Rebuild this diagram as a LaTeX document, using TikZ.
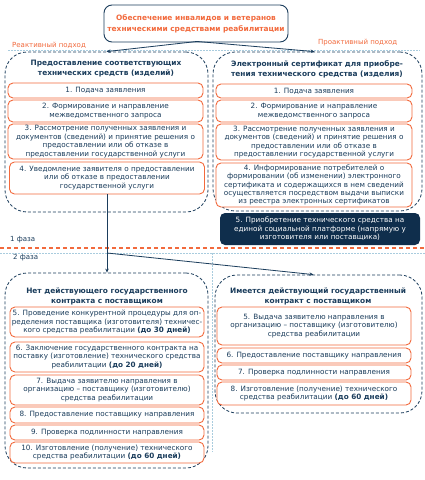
\documentclass[tikz,border=0pt]{standalone}
\usepackage{fontspec}
\setmainfont{DejaVu Sans}
\usetikzlibrary{arrows.meta,calc}
\definecolor{navy}{HTML}{1B3D5C}
\definecolor{org}{HTML}{F26A3D}
\definecolor{dark}{HTML}{0F2E4C}
\definecolor{lblue}{HTML}{A9CCDE}
\tikzset{
 stepbox/.style={draw=org, line width=0.9pt, rounded corners=5pt, fill=white, align=center, text=navy, font=\fontsize{7.25}{8.4}\selectfont, inner sep=0pt},
 darkbox/.style={fill=dark, rounded corners=5pt, align=center, text=white, font=\fontsize{7.25}{8.4}\selectfont, inner sep=0pt},
 cont/.style={draw=navy, dash pattern=on 3pt off 2pt, line width=0.8pt, rounded corners=22pt},
 conttitle/.style={align=center, text=navy, font=\bfseries\fontsize{7.4}{10}\selectfont, inner sep=0pt},
 lbl/.style={text=org, font=\fontsize{7}{8}\selectfont, inner sep=0pt, anchor=west},
 phase/.style={text=navy, font=\fontsize{7}{8}\selectfont, inner sep=0pt, anchor=west},
 conn/.style={draw=navy, line width=0.8pt, -{Stealth[length=4pt,width=3.5pt]}},
 guide/.style={draw=lblue, line width=0.6pt, dash pattern=on 1.5pt off 1.5pt},
}
\begin{document}
\begin{tikzpicture}[x=1pt,y=-1pt]
\useasboundingbox (0,0) rectangle (425,480);
\fill[white] (0,0) rectangle (425,480);
% guides
\draw[guide] (8,50) -- (420,50);
\draw[guide] (0,253) -- (425,253);
\draw[guide] (212,253) -- (212,452);
% containers
\node[cont, minimum width=203pt, minimum height=160pt] (ltc) at (106.5,132) {};
\node[cont, minimum width=209pt, minimum height=159pt] (rtc) at (317.5,131.5) {};
\node[cont, minimum width=203pt, minimum height=195pt] (llc) at (106.5,370.5) {};
\node[cont, minimum width=207pt, minimum height=138pt] (lrc) at (318.5,344) {};
% title
\node[draw=navy, line width=0.9pt, rounded corners=8pt, fill=white, minimum width=184pt, minimum height=37pt, align=center, text=org, font=\bfseries\fontsize{7.4}{11}\selectfont, inner sep=0pt] (title) at (196,23.5) {Обеспечение инвалидов и ветеранов\\техническими средствами реабилитации};
\node[lbl] (reak) at (12,45) {Реактивный подход};
\node[lbl] (proak) at (318,43) {Проактивный подход};
% left top
\node[conttitle] (ltt) at (106,69) {Предоставление соответствующих\\технических средств (изделий)};
\node[stepbox, minimum width=195pt, minimum height=15pt] (l1) at (105.5,90.5) {1. Подача заявления};
\node[stepbox, minimum width=195pt, minimum height=22pt] (l2) at (105.5,111) {2. Формирование и направление\\межведомственного запроса};
\node[stepbox, minimum width=195pt, minimum height=35pt] (l3) at (105.5,141.5) {3. Рассмотрение полученных заявления и\\документов (сведений) и принятие решения о\\предоставлении или об отказе в\\предоставлении государственной услуги};
\node[stepbox, minimum width=195pt, minimum height=32pt] (l4) at (107,178) {4. Уведомление заявителя о предоставлении\\или об отказе в предоставлении\\государственной услуги};
% right top
\node[conttitle] (rtt) at (317,69) {Электронный сертификат для приобре-\\тения технического средства (изделия)};
\node[stepbox, minimum width=196pt, minimum height=14pt] (r1) at (314,91) {1. Подача заявления};
\node[stepbox, minimum width=196pt, minimum height=22pt] (r2) at (314,111) {2. Формирование и направление\\межведомственного запроса};
\node[stepbox, minimum width=196pt, minimum height=36pt] (r3) at (314,142) {3. Рассмотрение полученных заявления и\\документов (сведений) и принятие решения о\\предоставлении или об отказе в\\предоставлении государственной услуги};
\node[stepbox, minimum width=196pt, minimum height=44pt] (r4) at (314,185) {4. Информирование потребителей о\\формировании (об изменении) электронного\\сертификата и содержащихся в нем сведений\\осуществляется посредством выдачи выписки\\из реестра электронных сертификатов};
\node[darkbox, minimum width=200pt, minimum height=32pt] (r5) at (320,229) {5. Приобретение технического средства на\\единой социальной платформе (напрямую у\\изготовителя или поставщика)};
% phase separator
\draw[draw=org, line width=1.2pt, dash pattern=on 4pt off 3pt] (0,248) -- (425,248);
\node[phase] (ph1) at (10,240) {1 фаза};
\node[phase] (ph2) at (13,258) {2 фаза};
% lower left
\node[conttitle] (llt) at (107,296) {Нет действующего государственного\\контракта с поставщиком};
\node[stepbox, minimum width=194pt, minimum height=30pt] (s5) at (107,322) {5. Проведение конкурентной процедуры для оп-\\ределения поставщика (изготовителя) техничес-\\кого средства реабилитации \textbf{(до 30 дней)}};
\node[stepbox, minimum width=194pt, minimum height=30pt] (s6) at (107,357) {6. Заключение государственного контракта на\\поставку (изготовление) технического средства\\реабилитации \textbf{(до 20 дней)}};
\node[stepbox, minimum width=194pt, minimum height=30pt] (s7) at (107,390) {7. Выдача заявителю направления в\\организацию – поставщику (изготовителю)\\средства реабилитации};
\node[stepbox, minimum width=194pt, minimum height=16pt] (s8) at (107,415) {8. Предоставление поставщику направления};
\node[stepbox, minimum width=194pt, minimum height=15pt] (s9) at (107,432.5) {9. Проверка подлинности направления};
\node[stepbox, minimum width=194pt, minimum height=21pt] (s10) at (107,452.5) {10. Изготовление (получение) технического\\средства реабилитации \textbf{(до 60 дней)}};
% lower right
\node[conttitle] (lrt) at (318,296) {Имеется действующий государственный\\контракт с поставщиком};
\node[stepbox, minimum width=194pt, minimum height=38pt] (t5) at (314,326) {5. Выдача заявителю направления в\\организацию – поставщику (изготовителю)\\средства реабилитации};
\node[stepbox, minimum width=194pt, minimum height=15pt] (t6) at (314,355.5) {6. Предоставление поставщику направления};
\node[stepbox, minimum width=194pt, minimum height=15pt] (t7) at (314,372.5) {7. Проверка подлинности направления};
\node[stepbox, minimum width=194pt, minimum height=23pt] (t8) at (314,393.5) {8. Изготовление (получение) технического\\средства реабилитации \textbf{(до 60 дней)}};
% connectors
\coordinate (apex) at ($(title.south)+(1,-1)$);
\draw[conn] (apex) -- (ltc.north);
\draw[conn] (apex) -- ($(rtc.north)+(-3,0)$);
\coordinate (br) at (l4.south |- 0,253);
\draw[conn] (l4.south) -- (l4.south |- llc.north);
\draw[conn] (br) -- ($(lrc.north)+(-5,0)$);
\end{tikzpicture}
\end{document}
